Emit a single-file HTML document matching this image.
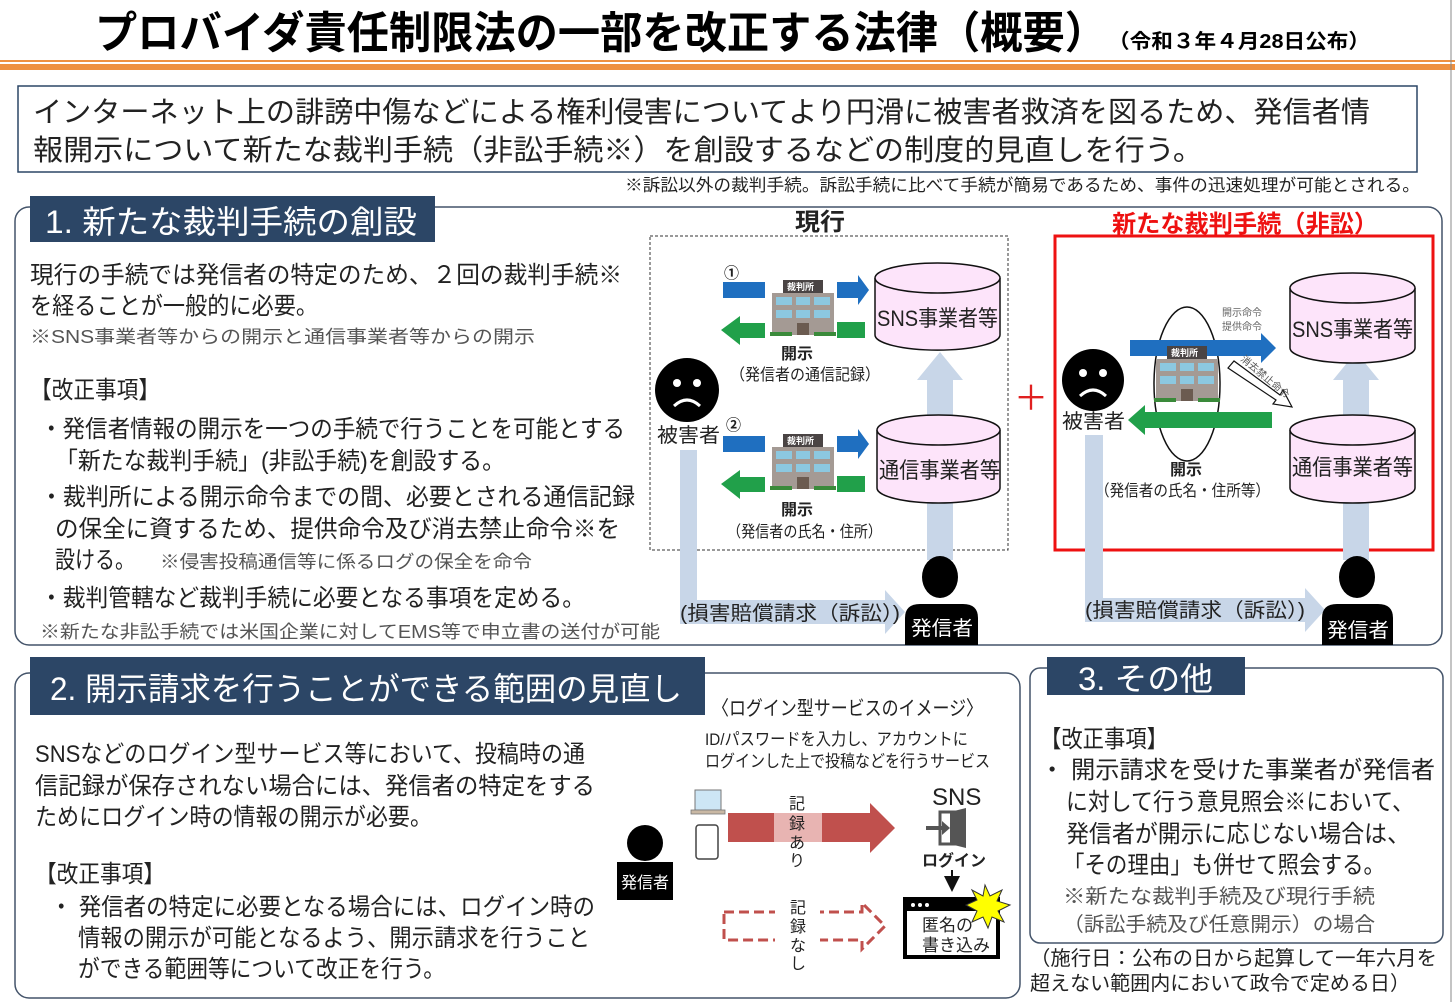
<!DOCTYPE html>
<html><head><meta charset="utf-8"><style>
html,body{margin:0;padding:0;background:#fff;}
svg{display:block;}
text{font-family:"Liberation Sans","Noto Sans CJK JP",sans-serif;fill:#222;}
.b{font-weight:bold;}
</style></head><body>
<svg width="1455" height="1002" viewBox="0 0 1455 1002" xmlns="http://www.w3.org/2000/svg">
<defs>
<marker id="ah" markerWidth="8" markerHeight="8" refX="6" refY="4" orient="auto"><path d="M0,0 L8,4 L0,8 z" fill="#111"/></marker>
</defs>
<!-- Title -->
<text x="95" y="48" font-size="44" class="b" textLength="1012" lengthAdjust="spacingAndGlyphs" style="fill:#000">プロバイダ責任制限法の一部を改正する法律（概要）</text>
<text x="1108" y="48" font-size="20" class="b" textLength="262" lengthAdjust="spacingAndGlyphs" style="fill:#000">（令和３年４月28日公布）</text>
<rect x="0" y="60" width="1455" height="2" fill="#ee9040"/>
<rect x="0" y="64" width="1455" height="6" fill="#ee9040"/>
<!-- Summary -->
<rect x="18" y="86" width="1399" height="86" fill="#fff" stroke="#2c4666" stroke-width="1.5"/>
<text x="33" y="122" font-size="29" textLength="1337" lengthAdjust="spacingAndGlyphs">インターネット上の誹謗中傷などによる権利侵害についてより円滑に被害者救済を図るため、発信者情</text>
<text x="33" y="160" font-size="29" textLength="1170" lengthAdjust="spacingAndGlyphs">報開示について新たな裁判手続（非訟手続※）を創設するなどの制度的見直しを行う。</text>
<text x="625" y="191" font-size="17" textLength="795" lengthAdjust="spacingAndGlyphs">※訴訟以外の裁判手続。訴訟手続に比べて手続が簡易であるため、事件の迅速処理が可能とされる。</text>

<!-- Section 1 -->
<rect x="15" y="207" width="1427" height="438" rx="14" fill="none" stroke="#44546a" stroke-width="1.5"/>
<rect x="30" y="196" width="405" height="46" fill="#2c4666"/>
<text x="45" y="233" font-size="32" textLength="372" lengthAdjust="spacingAndGlyphs" style="fill:#fff">1. 新たな裁判手続の創設</text>
<text x="30" y="283" font-size="24" textLength="592" lengthAdjust="spacingAndGlyphs">現行の手続では発信者の特定のため、２回の裁判手続※</text>
<text x="30" y="314" font-size="24" textLength="288" lengthAdjust="spacingAndGlyphs">を経ることが一般的に必要。</text>
<text x="30" y="343" font-size="18" textLength="505" lengthAdjust="spacingAndGlyphs" style="fill:#555">※SNS事業者等からの開示と通信事業者等からの開示</text>
<text x="30" y="398" font-size="24" textLength="130" lengthAdjust="spacingAndGlyphs">【改正事項】</text>
<text x="40" y="437" font-size="24" textLength="585" lengthAdjust="spacingAndGlyphs">・発信者情報の開示を一つの手続で行うことを可能とする</text>
<text x="55" y="469" font-size="24" textLength="450" lengthAdjust="spacingAndGlyphs">「新たな裁判手続」(非訟手続)を創設する。</text>
<text x="40" y="505" font-size="24" textLength="595" lengthAdjust="spacingAndGlyphs">・裁判所による開示命令までの間、必要とされる通信記録</text>
<text x="55" y="537" font-size="24" textLength="565" lengthAdjust="spacingAndGlyphs">の保全に資するため、提供命令及び消去禁止命令※を</text>
<text x="55" y="568" font-size="24" textLength="80" lengthAdjust="spacingAndGlyphs">設ける。</text>
<text x="160" y="568" font-size="18" textLength="372" lengthAdjust="spacingAndGlyphs" style="fill:#555">※侵害投稿通信等に係るログの保全を命令</text>
<text x="40" y="606" font-size="24" textLength="545" lengthAdjust="spacingAndGlyphs">・裁判管轄など裁判手続に必要となる事項を定める。</text>
<text x="40" y="638" font-size="18" textLength="620" lengthAdjust="spacingAndGlyphs" style="fill:#555">※新たな非訟手続では米国企業に対してEMS等で申立書の送付が可能</text>

<!-- 現行 diagram -->
<text x="795" y="230" font-size="24" class="b" textLength="50" lengthAdjust="spacingAndGlyphs">現行</text>
<rect x="650" y="236" width="358" height="314" fill="none" stroke="#333" stroke-width="1" stroke-dasharray="3,2"/>
<!-- light blue arrows -->
<path d="M927,560 V380 H917 L940,352 L963,380 H953 V560 Z" fill="#c8d6e8"/>
<path d="M680,450 H697 V600 H885 V590 L905,612 L885,634 V624 H680 Z" fill="#c8d6e8"/>
<!-- set 1 -->
<text x="724" y="278" font-size="15" class="b">①</text>
<rect x="723" y="282" width="42" height="16" fill="#1f6fc0"/>
<path d="M837,282 H858 V275 L869,290 L858,305 V298 H837 Z" fill="#1f6fc0"/>
<path d="M765,323 H740 V316 L721,330 L740,345 V338 H765 Z" fill="#21a04a"/>
<rect x="837" y="322" width="28" height="16" fill="#21a04a"/>
<g>
<rect x="783" y="280" width="40" height="13" fill="#4a4444"/>
<rect x="772" y="293" width="62" height="42" fill="#a49a94"/>
<rect x="776" y="297" width="16" height="8" fill="#8cc8e0"/><rect x="796" y="297" width="14" height="8" fill="#8cc8e0"/><rect x="814" y="297" width="16" height="8" fill="#8cc8e0"/>
<rect x="776" y="310" width="16" height="8" fill="#8cc8e0"/><rect x="796" y="310" width="14" height="8" fill="#8cc8e0"/><rect x="814" y="310" width="16" height="8" fill="#8cc8e0"/>
<rect x="797" y="323" width="12" height="12" fill="#6b5b50"/>
<rect x="770" y="332" width="22" height="4" fill="#3a8a3a"/><rect x="814" y="332" width="22" height="4" fill="#3a8a3a"/>
</g>
<text x="787" y="290" font-size="9" class="b" style="fill:#fff">裁判所</text>
<path d="M875,278 V335 A62,15 0 0 0 1000,335 V278" fill="#fde4fa" stroke="#111" stroke-width="1.5"/>
<ellipse cx="937.5" cy="278" rx="62.5" ry="15" fill="#fde4fa" stroke="#111" stroke-width="1.5"/>
<text x="877" y="326" font-size="22" textLength="121" lengthAdjust="spacingAndGlyphs">SNS事業者等</text>
<text x="781" y="359" font-size="16" class="b">開示</text>
<text x="730" y="380" font-size="16" textLength="150" lengthAdjust="spacingAndGlyphs">（発信者の通信記録）</text>
<!-- set 2 -->
<text x="726" y="430" font-size="15" class="b">②</text>
<rect x="723" y="436" width="42" height="16" fill="#1f6fc0"/>
<path d="M837,436 H858 V429 L869,444 L858,459 V452 H837 Z" fill="#1f6fc0"/>
<path d="M765,477 H740 V470 L721,484 L740,499 V492 H765 Z" fill="#21a04a"/>
<rect x="837" y="476" width="28" height="16" fill="#21a04a"/>
<g transform="translate(0,154)">
<rect x="783" y="280" width="40" height="13" fill="#4a4444"/>
<rect x="772" y="293" width="62" height="42" fill="#a49a94"/>
<rect x="776" y="297" width="16" height="8" fill="#8cc8e0"/><rect x="796" y="297" width="14" height="8" fill="#8cc8e0"/><rect x="814" y="297" width="16" height="8" fill="#8cc8e0"/>
<rect x="776" y="310" width="16" height="8" fill="#8cc8e0"/><rect x="796" y="310" width="14" height="8" fill="#8cc8e0"/><rect x="814" y="310" width="16" height="8" fill="#8cc8e0"/>
<rect x="797" y="323" width="12" height="12" fill="#6b5b50"/>
<rect x="770" y="332" width="22" height="4" fill="#3a8a3a"/><rect x="814" y="332" width="22" height="4" fill="#3a8a3a"/>
</g>
<text x="787" y="444" font-size="9" class="b" style="fill:#fff">裁判所</text>
<path d="M877,430 V488 A61.5,15 0 0 0 1000,488 V430" fill="#fde4fa" stroke="#111" stroke-width="1.5"/>
<ellipse cx="938.5" cy="430" rx="61.5" ry="15" fill="#fde4fa" stroke="#111" stroke-width="1.5"/>
<text x="879" y="478" font-size="22" textLength="121" lengthAdjust="spacingAndGlyphs">通信事業者等</text>
<text x="781" y="515" font-size="16" class="b">開示</text>
<text x="727" y="537" font-size="16" textLength="155" lengthAdjust="spacingAndGlyphs">（発信者の氏名・住所）</text>
<!-- victim -->
<circle cx="687" cy="390" r="32" fill="#000"/>
<circle cx="677" cy="383" r="4" fill="#fff"/><circle cx="697" cy="383" r="4" fill="#fff"/>
<path d="M674,406 Q687,394 700,406" stroke="#fff" stroke-width="3" fill="none"/>
<text x="657" y="442" font-size="20" textLength="63" lengthAdjust="spacingAndGlyphs">被害者</text>
<text x="680" y="620" font-size="20" textLength="220" lengthAdjust="spacingAndGlyphs">(損害賠償請求（訴訟）)</text>
<!-- sender -->
<ellipse cx="940" cy="577" rx="18" ry="21" fill="#000"/>
<path d="M905,645 V618 Q905,604 920,604 H963 Q978,604 978,618 V645 Z" fill="#000"/>
<text x="911" y="635" font-size="20" style="fill:#fff" textLength="62" lengthAdjust="spacingAndGlyphs">発信者</text>

<!-- plus -->
<text x="1014" y="410" font-size="34" style="fill:#e02020">＋</text>

<!-- 新たな diagram -->
<text x="1112" y="232" font-size="24" class="b" textLength="266" lengthAdjust="spacingAndGlyphs" style="fill:#ee1111">新たな裁判手続（非訟）</text>
<rect x="1055" y="236" width="378" height="314" fill="none" stroke="#ee1111" stroke-width="3"/>
<path d="M1343,560 V380 H1333 L1356,352 L1379,380 H1369 V560 Z" fill="#c8d6e8"/>
<path d="M1085,435 H1103 V598 H1305 V588 L1325,610 L1305,632 V622 H1085 Z" fill="#c8d6e8"/>
<path d="M1290,288 V348 A62.5,15 0 0 0 1415,348 V288" fill="#fde4fa" stroke="#111" stroke-width="1.5"/>
<ellipse cx="1352.5" cy="288" rx="62.5" ry="15" fill="#fde4fa" stroke="#111" stroke-width="1.5"/>
<text x="1292" y="337" font-size="22" textLength="121" lengthAdjust="spacingAndGlyphs">SNS事業者等</text>
<path d="M1290,430 V488 A62.5,15 0 0 0 1415,488 V430" fill="#fde4fa" stroke="#111" stroke-width="1.5"/>
<ellipse cx="1352.5" cy="430" rx="62.5" ry="15" fill="#fde4fa" stroke="#111" stroke-width="1.5"/>
<text x="1292" y="475" font-size="22" textLength="121" lengthAdjust="spacingAndGlyphs">通信事業者等</text>
<ellipse cx="1187" cy="384" rx="33" ry="77" fill="#fff" stroke="#111" stroke-width="1.5"/>
<path d="M1130,340 H1261 V333 L1276,348 L1261,363 V356 H1130 Z" fill="#1f6fc0"/>
<path d="M1272,412 H1145 V405 L1128,420 L1145,435 V428 H1272 Z" fill="#21a04a"/>
<g transform="translate(384,66)">
<rect x="783" y="280" width="40" height="13" fill="#4a4444"/>
<rect x="772" y="293" width="62" height="42" fill="#a49a94"/>
<rect x="776" y="297" width="16" height="8" fill="#8cc8e0"/><rect x="796" y="297" width="14" height="8" fill="#8cc8e0"/><rect x="814" y="297" width="16" height="8" fill="#8cc8e0"/>
<rect x="776" y="310" width="16" height="8" fill="#8cc8e0"/><rect x="796" y="310" width="14" height="8" fill="#8cc8e0"/><rect x="814" y="310" width="16" height="8" fill="#8cc8e0"/>
<rect x="797" y="323" width="12" height="12" fill="#6b5b50"/>
<rect x="770" y="332" width="22" height="4" fill="#3a8a3a"/><rect x="814" y="332" width="22" height="4" fill="#3a8a3a"/>
</g>
<text x="1171" y="356" font-size="9" class="b" style="fill:#fff">裁判所</text>
<text x="1222" y="316" font-size="10" style="fill:#666">開示命令</text>
<text x="1222" y="330" font-size="10" style="fill:#666">提供命令</text>
<path d="M1228,368 L1234,361 L1280,395 L1283,390 L1292,407 L1273,404 L1276,400 Z" fill="#fff" stroke="#111" stroke-width="1.2"/>
<text x="1240" y="360" font-size="10" style="fill:#555" transform="rotate(40 1240 360)">消去禁止命令</text>
<circle cx="1093" cy="380" r="31" fill="#000"/>
<circle cx="1083" cy="373" r="4" fill="#fff"/><circle cx="1103" cy="373" r="4" fill="#fff"/>
<path d="M1080,396 Q1093,384 1106,396" stroke="#fff" stroke-width="3" fill="none"/>
<text x="1062" y="428" font-size="20" textLength="63" lengthAdjust="spacingAndGlyphs">被害者</text>
<text x="1170" y="475" font-size="16" class="b">開示</text>
<text x="1095" y="496" font-size="16" textLength="175" lengthAdjust="spacingAndGlyphs">（発信者の氏名・住所等）</text>
<text x="1085" y="617" font-size="20" textLength="220" lengthAdjust="spacingAndGlyphs">(損害賠償請求（訴訟）)</text>
<ellipse cx="1357" cy="577" rx="18" ry="21" fill="#000"/>
<path d="M1322,645 V618 Q1322,604 1337,604 H1378 Q1393,604 1393,618 V645 Z" fill="#000"/>
<text x="1327" y="637" font-size="20" style="fill:#fff" textLength="62" lengthAdjust="spacingAndGlyphs">発信者</text>

<!-- Section 2 -->
<rect x="15" y="673" width="1005" height="325" rx="14" fill="none" stroke="#44546a" stroke-width="1.5"/>
<rect x="30" y="657" width="675" height="58" fill="#2c4666"/>
<text x="50" y="700" font-size="32" textLength="632" lengthAdjust="spacingAndGlyphs" style="fill:#fff">2. 開示請求を行うことができる範囲の見直し</text>
<text x="35" y="762" font-size="24" textLength="550" lengthAdjust="spacingAndGlyphs">SNSなどのログイン型サービス等において、投稿時の通</text>
<text x="35" y="794" font-size="24" textLength="560" lengthAdjust="spacingAndGlyphs">信記録が保存されない場合には、発信者の特定をする</text>
<text x="35" y="825" font-size="24" textLength="397" lengthAdjust="spacingAndGlyphs">ためにログイン時の情報の開示が必要。</text>
<text x="35" y="882" font-size="24" textLength="130" lengthAdjust="spacingAndGlyphs">【改正事項】</text>
<text x="50" y="915" font-size="24" textLength="545" lengthAdjust="spacingAndGlyphs">・ 発信者の特定に必要となる場合には、ログイン時の</text>
<text x="78" y="946" font-size="24" textLength="512" lengthAdjust="spacingAndGlyphs">情報の開示が可能となるよう、開示請求を行うこと</text>
<text x="78" y="977" font-size="24" textLength="367" lengthAdjust="spacingAndGlyphs">ができる範囲等について改正を行う。</text>
<text x="712" y="715" font-size="20" textLength="271" lengthAdjust="spacingAndGlyphs">〈ログイン型サービスのイメージ〉</text>
<text x="705" y="745" font-size="17" textLength="263" lengthAdjust="spacingAndGlyphs">ID/パスワードを入力し、アカウントに</text>
<text x="705" y="767" font-size="17" textLength="285" lengthAdjust="spacingAndGlyphs">ログインした上で投稿などを行うサービス</text>
<circle cx="645" cy="843" r="18" fill="#000"/>
<rect x="617" y="862" width="56" height="38" fill="#000"/>
<text x="621" y="888" font-size="16" style="fill:#fff">発信者</text>
<rect x="695" y="790" width="26" height="20" fill="#cde6f5" stroke="#777"/>
<rect x="691" y="810" width="34" height="4" fill="#c9b8a4" stroke="#777" stroke-width="0.8"/>
<rect x="696" y="825" width="22" height="34" rx="3" fill="#fff" stroke="#444" stroke-width="1.5"/>
<path d="M728,813 H870 V803 L895,828 L870,853 V842 H728 Z" fill="#c0504d"/>
<rect x="774" y="813" width="48" height="29" fill="#e8b4b2"/>
<text font-size="16" x="789" y="809">記</text><text font-size="16" x="789" y="829">録</text><text font-size="16" x="789" y="848">あ</text><text font-size="16" x="789" y="866">り</text>
<path d="M724,912 H862 V903 L885,926 L862,949 V940 H724 Z" fill="#fff" stroke="#c0504d" stroke-width="3" stroke-dasharray="10,5"/>
<rect x="775" y="908" width="45" height="36" fill="#fff"/>
<text font-size="16" x="790" y="913">記</text><text font-size="16" x="790" y="932">録</text><text font-size="16" x="790" y="951">な</text><text font-size="16" x="790" y="969">し</text>
<text x="932" y="805" font-size="24">SNS</text>
<rect x="940" y="812" width="24" height="32" fill="none" stroke="#555" stroke-width="3"/>
<path d="M950,812 L966,808 V848 L950,844 Z" fill="#555"/>
<path d="M926,828 H946" stroke="#555" stroke-width="4"/><path d="M942,821 L950,828 L942,835 Z" fill="#555"/>
<text x="922" y="866" font-size="16" class="b">ログイン</text>
<line x1="952" y1="870" x2="952" y2="888" stroke="#111" stroke-width="2" marker-end="url(#ah)"/>
<rect x="905" y="899" width="93" height="58" fill="#fff" stroke="#000" stroke-width="4"/>
<rect x="905" y="899" width="93" height="12" fill="#000"/>
<circle cx="913" cy="905" r="2" fill="#fff"/><circle cx="920" cy="905" r="2" fill="#fff"/><circle cx="927" cy="905" r="2" fill="#fff"/>
<text x="922" y="931" font-size="17">匿名の</text>
<text x="922" y="951" font-size="17">書き込み</text>
<path d="M985,885 L990,896 L1002,890 L997,901 L1010,905 L998,911 L1004,922 L992,917 L988,928 L983,917 L972,922 L977,911 L966,905 L977,900 L972,890 L983,896 Z" fill="#ffff00" stroke="#333" stroke-width="1"/>

<!-- Section 3 -->
<rect x="1030" y="668" width="413" height="275" rx="10" fill="none" stroke="#44546a" stroke-width="1.5"/>
<rect x="1047" y="657" width="198" height="38" fill="#2c4666"/>
<text x="1078" y="690" font-size="32" textLength="135" lengthAdjust="spacingAndGlyphs" style="fill:#fff">3. その他</text>
<text x="1040" y="747" font-size="24" textLength="128" lengthAdjust="spacingAndGlyphs">【改正事項】</text>
<text x="1040" y="778" font-size="24" textLength="395" lengthAdjust="spacingAndGlyphs">・ 開示請求を受けた事業者が発信者</text>
<text x="1066" y="810" font-size="24" textLength="348" lengthAdjust="spacingAndGlyphs">に対して行う意見照会※において、</text>
<text x="1066" y="842" font-size="24" textLength="344" lengthAdjust="spacingAndGlyphs">発信者が開示に応じない場合は、</text>
<text x="1063" y="873" font-size="24" textLength="322" lengthAdjust="spacingAndGlyphs">「その理由」も併せて照会する。</text>
<text x="1063" y="903" font-size="20" textLength="312" lengthAdjust="spacingAndGlyphs" style="fill:#555">※新たな裁判手続及び現行手続</text>
<text x="1063" y="931" font-size="20" textLength="312" lengthAdjust="spacingAndGlyphs" style="fill:#555">（訴訟手続及び任意開示）の場合</text>
<text x="1030" y="965" font-size="20" textLength="407" lengthAdjust="spacingAndGlyphs">（施行日：公布の日から起算して一年六月を</text>
<text x="1030" y="990" font-size="20" textLength="380" lengthAdjust="spacingAndGlyphs">超えない範囲内において政令で定める日）</text>
<line x1="1451" y1="0" x2="1451" y2="1002" stroke="#888" stroke-width="1"/>
</svg>
</body></html>
